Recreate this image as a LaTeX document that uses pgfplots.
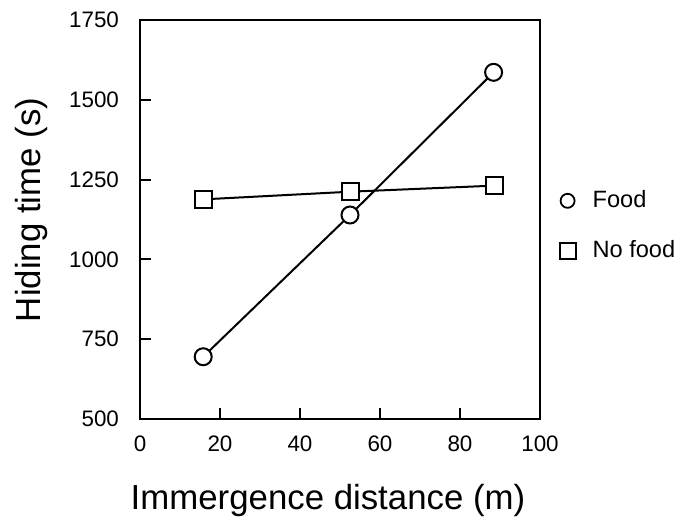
\documentclass[border=0pt]{standalone}
\usepackage{pgfplots}
\pgfplotsset{compat=1.18}
\usepackage{fontspec}
\setmainfont{Liberation Sans}
\begin{document}
\begin{tikzpicture}
\begin{axis}[
  scale only axis,
  clip=false,
  width=200pt, height=199.5pt,
  xmin=0, xmax=100,
  ymin=500, ymax=1750,
  xtick={0,20,40,60,80,100},
  ytick={500,750,1000,1250,1500,1750},
  tick align=inside,
  xtick pos=bottom, ytick pos=left,
  major tick length=5.5pt,
  axis line style={line width=1.2pt},
  tick style={line width=1pt, black},
  /pgf/number format/assume math mode=true,
  /pgf/number format/1000 sep={},
  tick label style={font=\fontsize{11.2}{13}\selectfont},
  xticklabel style={yshift=-5pt},
  yticklabel style={xshift=-7pt},
  xlabel={Immergence distance (m)},
  ylabel={Hiding time (s)},
  xlabel style={font=\fontsize{17.4}{20}\selectfont,
    at={(axis description cs:0.47,-0.228)}, anchor=base},
  ylabel style={font=\fontsize{17.4}{20}\selectfont,
    at={(axis description cs:-0.2475,0.524)}, anchor=base, rotate=0},
  legend style={at={(axis description cs:1.033,0.484)}, anchor=west, draw=none,
    fill=none, font=\fontsize{11.8}{14}\selectfont, row sep=11pt,
    legend cell align=left},
]
\addplot[black, line width=1pt, mark=square*, mark size=4.25pt,
  mark options={fill=white, line width=1pt}, forget plot]
  coordinates {(15.8,1188) (52.5,1212) (88.5,1231)};
\addplot[black, line width=1pt, mark=*, mark size=4.25pt,
  mark options={fill=white, line width=1pt}, forget plot]
  coordinates {(15.8,695) (52.5,1139) (88.4,1586)};
\addlegendimage{only marks, mark=o, mark size=3.5pt, line width=0.9pt, black}
\addlegendentry{\hspace{6.5pt}Food}
\addlegendimage{only marks, mark=square, mark size=4pt, line width=0.9pt, black}
\addlegendentry{\hspace{6.5pt}No food}
\path (rel axis cs:-0.35,-0.2431) rectangle (rel axis cs:1.3775,1.0501);
\end{axis}
\end{tikzpicture}
\end{document}
